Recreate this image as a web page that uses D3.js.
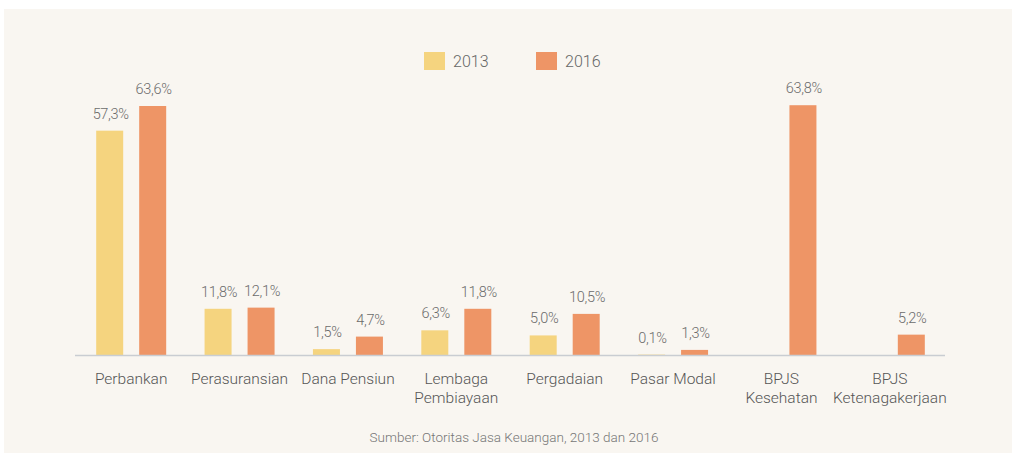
<!DOCTYPE html>
<html>
<head>
<meta charset="utf-8">
<script src="https://cdn.jsdelivr.net/npm/d3@7"></script>
<style>
  html, body { margin: 0; padding: 0; background: #fff; }
  svg { display: block; font-family: Roboto, "Open Sans", sans-serif; }
</style>
</head>
<body>
<div id="app"></div>
<script>
// categories (label lines) and series values, in percent
const categories = [
	['Perbankan'],
	['Perasuransian'],
	['Dana Pensiun'],
	['Lembaga', 'Pembiayaan'],
	['Pergadaian'],
	['Pasar Modal'],
	['BPJS', 'Kesehatan'],
	['BPJS', 'Ketenagakerjaan']
];
const years = ['2013', '2016'];
const values2013 = [57.3, 11.8, 1.5, 6.3, 5.0, 0.1, null, null];
const values2016 = [63.6, 12.1, 4.7, 11.8, 10.5, 1.3, 63.8, 5.2];
const source = 'Sumber: Otoritas Jasa Keuangan, 2013 dan 2016';

const width = 1016;
const height = 459;
const colors = { '2013': '#f5d47f', '2016': '#ee9566' };
const baseline = 355;

const fmt = (v) => d3.format('.1f')(v).replace('.', ',') + '%';

const rows = categories.map((c, i) => ({
	key: c.join(' '),
	lines: c,
	vals: [
		{ year: '2013', v: values2013[i] },
		{ year: '2016', v: values2016[i] }
	]
}));

const svg = d3.create('svg').attr('width', width).attr('height', height);

// panel background
svg.append('rect').attr('x', 4).attr('y', 9).attr('width', 1008).attr('height', 444).attr('fill', '#f9f6f1');

const x = d3.scaleBand().domain(rows.map((d) => d.key)).range([77, 944]).paddingInner(0).paddingOuter(0);
// two bars of 27px with a 16px gap
const xs = d3.scaleBand().domain(years).range([0, 70]).paddingInner(16 / 43);
const y = d3.scaleLinear().domain([0, 63.6]).range([baseline, 106]);

const group = svg
	.append('g')
	.selectAll('g.cat')
	.data(rows)
	.join('g')
	.attr('class', 'cat')
	.attr('transform', (d) => `translate(${x(d.key) + x.bandwidth() / 2 - 35},0)`);

const bars = group
	.selectAll('g.bar')
	.data((d) => d.vals.filter((v) => v.v != null))
	.join('g')
	.attr('class', 'bar');

bars.append('rect')
	.attr('x', (d) => xs(d.year))
	.attr('width', xs.bandwidth())
	.attr('y', (d) => y(d.v))
	.attr('height', (d) => baseline - y(d.v))
	.attr('fill', (d) => colors[d.year]);

bars.append('text')
	.attr('x', (d) => xs(d.year) + xs.bandwidth() / 2 + 1)
	.attr('y', (d) => y(d.v) - 12)
	.attr('text-anchor', 'middle')
	.attr('fill', '#6b6b6b')
	.style('font-size', '14.5px')
	.style('font-weight', 300)
	.style('letter-spacing', '-0.3px')
	.text((d) => fmt(d.v));

// baseline axis
svg.append('line')
	.attr('x1', 75).attr('x2', 945)
	.attr('y1', baseline + 0.5).attr('y2', baseline + 0.5)
	.attr('stroke', '#c9cdd2').attr('stroke-width', 1.5);

// category labels
const lab = svg
	.append('g')
	.selectAll('text')
	.data(rows)
	.join('text')
	.attr('x', (d) => x(d.key) + x.bandwidth() / 2)
	.attr('y', 384)
	.attr('text-anchor', 'middle')
	.attr('fill', '#555')
	.style('font-size', '15.5px')
	.style('font-weight', 300);
lab.selectAll('tspan')
	.data((d) => d.lines)
	.join('tspan')
	.attr('x', function () { return this.parentNode.getAttribute('x'); })
	.attr('dy', (d, i) => (i ? 19 : 0))
	.text((d) => d);

// legend
const legendX = { '2013': 424, '2016': 536 };
const leg = svg.append('g').selectAll('g').data(years).join('g')
	.attr('transform', (d) => `translate(${legendX[d]},52)`);
leg.append('rect').attr('width', 21).attr('height', 18).attr('fill', (d) => colors[d]);
leg.append('text').attr('x', 29).attr('y', 15).attr('fill', '#666')
	.style('font-size', '16px').style('font-weight', 300).text((d) => d);

// source note
svg.append('text')
	.attr('x', 514).attr('y', 442)
	.attr('text-anchor', 'middle')
	.attr('fill', '#777')
	.style('font-size', '13.5px')
	.style('font-weight', 300)
	.text(source);

document.getElementById('app').append(svg.node());
</script>
</body>
</html>
